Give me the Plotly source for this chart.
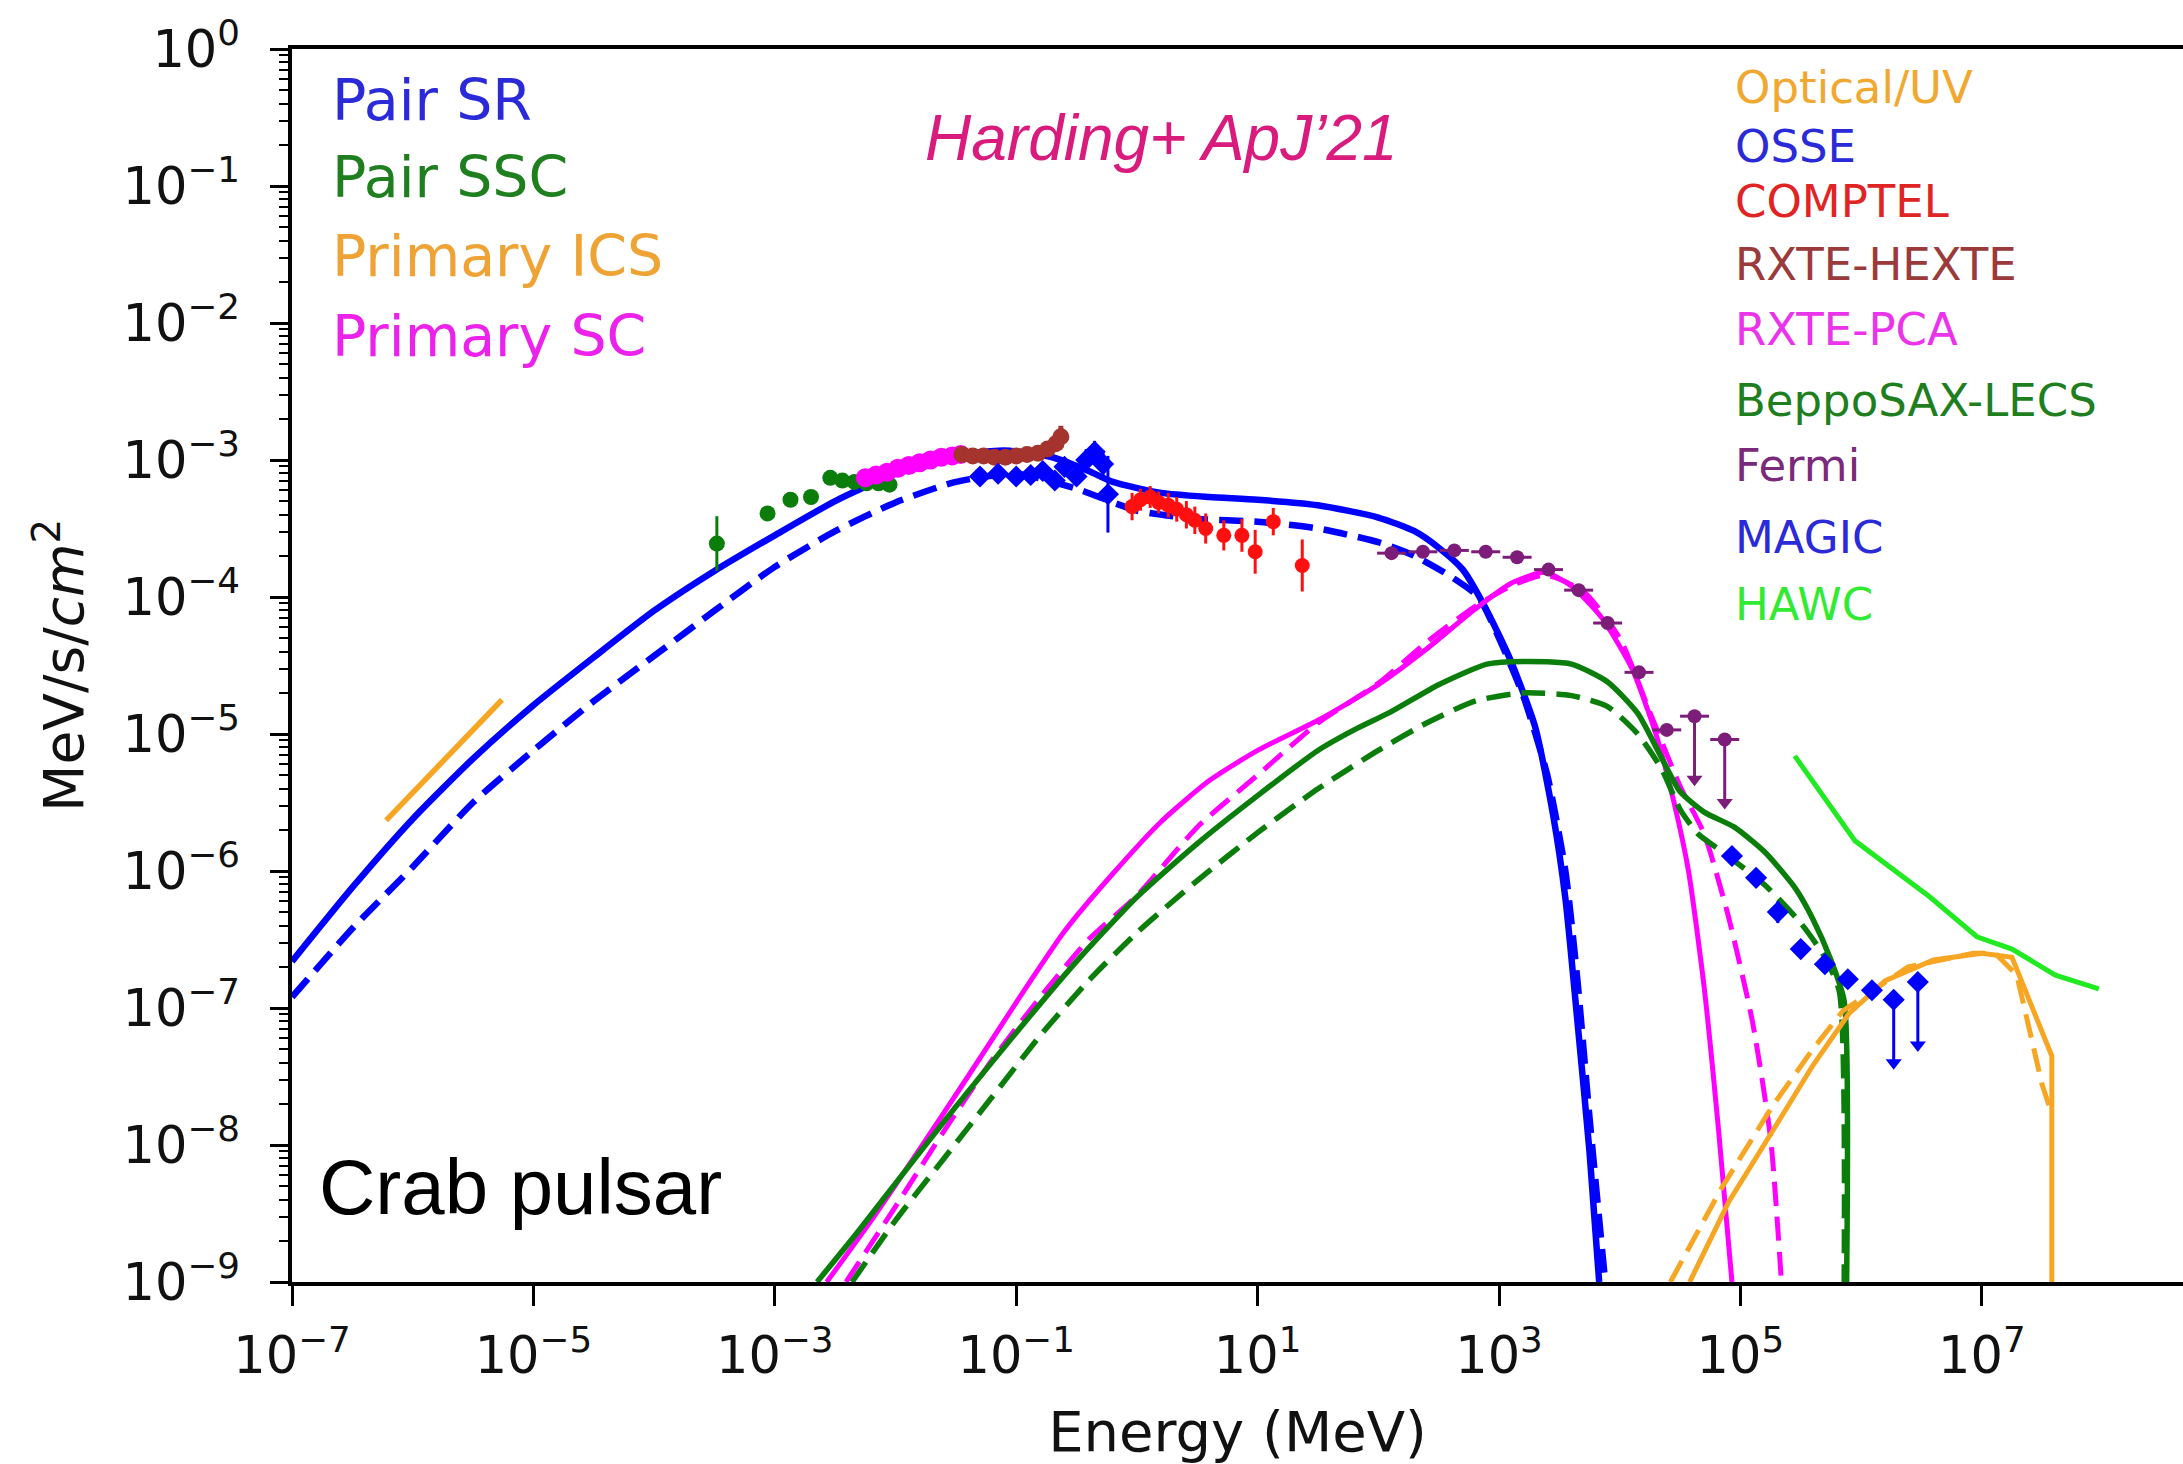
import numpy as np
import plotly.graph_objects as go

# ---------------- model curves: log10(E / MeV) and log10(flux, MeV/s/cm^2) ----------------
pair_sr_logE = [-7.0, -6.5, -6.0, -5.5, -5.0, -4.5, -4.0, -3.5, -3.0, -2.5, -2.0, -1.5, -1.1, -0.7, -0.4,
                -0.2, 0.2, 0.6, 1.0, 1.5, 2.0, 2.3, 2.5, 2.7, 2.9, 3.1, 3.3, 3.45, 3.55, 3.65, 3.75, 3.83]
pair_sr_logF = [-6.66, -6.12, -5.62, -5.18, -4.79, -4.44, -4.10, -3.81, -3.55, -3.30, -3.10, -2.97, -2.93, -2.98,
                -3.08, -3.16, -3.24, -3.27, -3.29, -3.33, -3.42, -3.52, -3.64, -3.80, -4.10, -4.47, -4.95, -5.60,
                -6.20, -7.10, -8.05, -9.0]
pair_sr2_logE = [-7.0, -6.5, -6.0, -5.5, -5.0, -4.5, -4.0, -3.5, -3.0, -2.5, -2.0, -1.5, -1.0, -0.5, 0.0, 0.5,
                 1.0, 1.5, 2.0, 2.3, 2.6, 2.83, 3.0, 3.2, 3.4, 3.55, 3.65, 3.75, 3.88]
pair_sr2_logF = [-6.92, -6.42, -5.97, -5.50, -5.12, -4.76, -4.43, -4.10, -3.78, -3.52, -3.31, -3.16, -3.10, -3.21,
                 -3.37, -3.43, -3.45, -3.50, -3.60, -3.70, -3.85, -4.00, -4.30, -4.72, -5.30, -6.00, -6.80, -7.80, -9.0]

pair_ssc_logE = [-2.65, -2.3, -2.0, -1.5, -1.0, -0.5, 0.0, 0.5, 1.0, 1.5, 1.8, 2.1, 2.5, 2.9, 3.2, 3.6, 3.9,
                 4.15, 4.35, 4.5, 4.7, 4.95, 5.2, 5.45, 5.6, 5.75, 5.86, 5.88]
pair_ssc_logF = [-9.0, -8.62, -8.28, -7.72, -7.18, -6.66, -6.19, -5.80, -5.45, -5.12, -4.97, -4.84, -4.64, -4.49,
                 -4.47, -4.49, -4.62, -4.85, -5.18, -5.42, -5.57, -5.68, -5.86, -6.12, -6.35, -6.65, -6.95, -9.0]
pair_ssc2_logE = [-2.36, -2.0, -1.6, -1.2, -0.8, -0.4, 0.0, 0.5, 1.0, 1.5, 2.0, 2.4, 2.8, 3.2, 3.6, 3.9, 4.15,
                  4.35, 4.5, 4.65, 4.85, 5.2, 5.5, 5.7, 5.82, 5.86]
pair_ssc2_logF = [-9.0, -8.55, -8.10, -7.65, -7.20, -6.80, -6.45, -6.07, -5.72, -5.40, -5.12, -4.92, -4.76, -4.70,
                  -4.72, -4.80, -5.00, -5.26, -5.55, -5.73, -5.86, -6.10, -6.38, -6.63, -6.88, -9.0]

prim_sc_logE = [-2.57, -2.2, -1.8, -1.4, -1.0, -0.6, -0.2, 0.2, 0.6, 1.0, 1.5, 2.0, 2.4, 2.8, 3.1, 3.38, 3.6,
                3.85, 4.1, 4.3, 4.45, 4.57, 4.7, 4.82, 4.93]
prim_sc_logF = [-9.0, -8.55, -8.03, -7.50, -6.96, -6.44, -6.02, -5.64, -5.34, -5.12, -4.90, -4.64, -4.38, -4.09,
                -3.90, -3.82, -3.92, -4.15, -4.52, -5.00, -5.50, -6.00, -6.85, -7.90, -9.0]
prim_sc2_logE = [-2.41, -2.0, -1.6, -1.2, -0.8, -0.4, 0.0, 0.5, 1.0, 1.5, 2.0, 2.4, 2.8, 3.1, 3.38, 3.7, 4.0,
                 4.25, 4.5, 4.7, 4.9, 5.1, 5.25, 5.34]
prim_sc2_logF = [-9.0, -8.45, -7.90, -7.38, -6.92, -6.50, -6.18, -5.68, -5.30, -4.92, -4.63, -4.33, -4.07, -3.92,
                 -3.84, -3.96, -4.30, -4.84, -5.38, -5.73, -6.33, -7.10, -7.95, -9.0]

prim_ics_logE = [4.58, 4.9, 5.3, 5.6, 5.9, 6.2, 6.6, 7.0, 7.25, 7.58, 7.58]
prim_ics_logF = [-9.0, -8.42, -7.85, -7.42, -7.04, -6.80, -6.65, -6.60, -6.63, -7.35, -9.0]
prim_ics2_logE = [4.42, 4.84, 5.27, 5.6, 5.85, 6.39, 6.93, 7.11, 7.29, 7.50, 7.56]
prim_ics2_logF = [-9.0, -8.32, -7.71, -7.30, -7.02, -6.70, -6.60, -6.60, -6.76, -7.56, -7.72]

# ---------------- observations ----------------
optuv_logE = [-6.22, -5.26]
optuv_logF = [-5.63, -4.75]

hawc_logE = [5.45, 5.95, 6.57, 6.96, 7.25, 7.61, 7.97]
hawc_logF = [-5.16, -5.78, -6.19, -6.48, -6.57, -6.76, -6.86]

lecs_logE = [-3.48, -3.06, -2.87, -2.70, -2.54, -2.44, -2.34, -2.24, -2.14, -2.05]
lecs_logF = [-3.61, -3.39, -3.29, -3.27, -3.13, -3.15, -3.16, -3.17, -3.17, -3.18]
lecs_err = [0.20, 0.03, 0.03, 0.03, 0.03, 0.03, 0.03, 0.03, 0.03, 0.03]

pca_logE = [-2.25, -2.16, -2.07, -1.98, -1.89, -1.80, -1.71, -1.62, -1.53, -1.46]
pca_logF = [-3.13, -3.11, -3.09, -3.06, -3.04, -3.02, -3.00, -2.98, -2.97, -2.96]
pca_err = [0.05, 0.05, 0.05, 0.05, 0.05, 0.05, 0.05, 0.05, 0.05, 0.05]

hexte_logE = [-1.45, -1.36, -1.27, -1.18, -1.09, -1.00, -0.91, -0.82, -0.74, -0.67, -0.63]
hexte_logF = [-2.96, -2.97, -2.97, -2.98, -2.98, -2.97, -2.96, -2.95, -2.92, -2.88, -2.83]
hexte_err = [0.04, 0.04, 0.04, 0.04, 0.04, 0.04, 0.04, 0.05, 0.05, 0.06, 0.08]

osse_logE = [-1.30, -1.15, -1.00, -0.88, -0.78, -0.68, -0.60, -0.50, -0.42, -0.35, -0.28, -0.24]
osse_logF = [-3.12, -3.10, -3.12, -3.11, -3.08, -3.15, -3.05, -3.12, -3.00, -2.94, -3.03, -3.25]
osse_err = [0.04, 0.04, 0.05, 0.05, 0.05, 0.06, 0.06, 0.07, 0.08, 0.08, 0.10, 0.28]

comptel_logE = [-0.04, 0.03, 0.11, 0.18, 0.26, 0.33, 0.41, 0.48, 0.57, 0.72, 0.87, 0.98, 1.13, 1.37]
comptel_logF = [-3.34, -3.29, -3.27, -3.31, -3.33, -3.36, -3.40, -3.44, -3.50, -3.55, -3.55, -3.67, -3.45, -3.77]
comptel_err = [0.10, 0.08, 0.08, 0.08, 0.09, 0.09, 0.10, 0.10, 0.11, 0.11, 0.12, 0.16, 0.10, 0.19]

fermi_logE = [2.11, 2.37, 2.63, 2.89, 3.15, 3.41, 3.66, 3.90, 4.16, 4.39]
fermi_logF = [-3.68, -3.67, -3.66, -3.67, -3.71, -3.80, -3.95, -4.19, -4.55, -4.97]
fermi_ul_logE = [4.62, 4.87]
fermi_ul_logF = [-4.87, -5.04]
fermi_ul_low = [-5.33, -5.50]

magic_logE = [4.93, 5.13, 5.31, 5.50, 5.70, 5.89, 6.09]
magic_logF = [-5.89, -6.05, -6.30, -6.57, -6.68, -6.79, -6.87]
magic_err = [0.03, 0.03, 0.08, 0.05, 0.04, 0.04, 0.04]
magic_ul_logE = [6.27, 6.47]
magic_ul_logF = [-6.94, -6.81]
magic_ul_low = [-7.40, -7.27]

model_labels = ["Pair SR", "Pair SSC", "Primary ICS", "Primary SC"]
data_labels = ["Optical/UV", "OSSE", "COMPTEL", "RXTE-HEXTE", "RXTE-PCA", "BeppoSAX-LECS", "Fermi", "MAGIC", "HAWC"]
y_tick_exps = list(range(-9, 1))
x_tick_exps = [-7, -5, -3, -1, 1, 3, 5, 7]

# ---------------- styling ----------------
BLUE = "#0000ff"
GREEN = "#0b7d0b"
MAGENTA = "#ff00ff"
ORANGE = "#f6a623"
LIME = "#22ea22"
PURPLE = "#7d1d7a"
RED = "#ff1010"
BROWN = "#a5332e"

W, H = 2183, 1464
L, T, R, B = 292, 49, 0, 182


def P(a):
    return np.power(10.0, np.asarray(a, dtype=float))


def errs(logf, e):
    f = P(logf)
    e = np.asarray(e, dtype=float)
    return f * (np.power(10.0, e) - 1.0), f * (1.0 - np.power(10.0, -e))


fig = go.Figure()


def line(xs, ys, color, dash=None, width=6, shape="spline"):
    fig.add_trace(go.Scatter(x=P(xs), y=P(ys), mode="lines",
                             line=dict(color=color, width=width, dash=dash, shape=shape, smoothing=0.6),
                             hoverinfo="skip"))


DASH = "24px,11px"
line(pair_sr_logE, pair_sr_logF, BLUE, width=6.5)
line(pair_sr2_logE, pair_sr2_logF, BLUE, DASH, width=6.5)
line(prim_sc_logE, prim_sc_logF, MAGENTA, width=5)
line(prim_sc2_logE, prim_sc2_logF, MAGENTA, DASH, width=5)
line(pair_ssc_logE, pair_ssc_logF, GREEN, width=5.5)
line(pair_ssc2_logE, pair_ssc2_logF, GREEN, DASH, width=5.5)
line(prim_ics_logE, prim_ics_logF, ORANGE, width=5, shape="linear")
line(prim_ics2_logE, prim_ics2_logF, ORANGE, DASH, width=5, shape="linear")
line(hawc_logE, hawc_logF, LIME, width=5, shape="linear")
line(optuv_logE, optuv_logF, ORANGE, width=5.5, shape="linear")


def points(xs, ys, e, color, symbol="circle", size=13, xerr=None, thick=3):
    up, dn = errs(ys, e)
    kw = {}
    if xerr is not None:
        xv = P(xs)
        kw["error_x"] = dict(type="data", symmetric=False,
                             array=xv * (10 ** xerr - 1), arrayminus=xv * (1 - 10 ** -xerr),
                             color=color, thickness=3, width=0)
    fig.add_trace(go.Scatter(x=P(xs), y=P(ys), mode="markers",
                             marker=dict(color=color, size=size, symbol=symbol, line=dict(width=0)),
                             error_y=dict(type="data", symmetric=False, array=up, arrayminus=dn,
                                          color=color, thickness=thick, width=0),
                             hoverinfo="skip", **kw))


points(lecs_logE, lecs_logF, lecs_err, GREEN, size=16)
points(pca_logE, pca_logF, pca_err, MAGENTA, size=19, thick=5)
points(hexte_logE, hexte_logF, hexte_err, BROWN, size=17, thick=5)
points(osse_logE, osse_logF, osse_err, BLUE, symbol="diamond", size=17)
points(comptel_logE, comptel_logF, comptel_err, RED, size=15)
points(fermi_logE, fermi_logF, [0.02] * len(fermi_logE), PURPLE, size=14, xerr=0.12)
points(magic_logE, magic_logF, magic_err, BLUE, symbol="diamond", size=17)


def upper_limits(xs, ys, lows, color, symbol, size, xerr=None):
    yv = P(ys)
    kw = {}
    if xerr is not None:
        xv = P(xs)
        kw["error_x"] = dict(type="data", symmetric=False,
                             array=xv * (10 ** xerr - 1), arrayminus=xv * (1 - 10 ** -xerr),
                             color=color, thickness=3, width=0)
    fig.add_trace(go.Scatter(x=P(xs), y=yv, mode="markers",
                             marker=dict(color=color, size=size, symbol=symbol),
                             error_y=dict(type="data", symmetric=False, array=[0] * len(xs),
                                          arrayminus=yv - P(lows), color=color, thickness=3, width=0),
                             hoverinfo="skip", **kw))
    fig.add_trace(go.Scatter(x=P(xs), y=P(lows), mode="markers",
                             marker=dict(color=color, size=14, symbol="triangle-down"),
                             hoverinfo="skip"))


upper_limits(fermi_ul_logE, fermi_ul_logF, fermi_ul_low, PURPLE, "circle", 14, xerr=0.12)
upper_limits(magic_ul_logE, magic_ul_logF, magic_ul_low, BLUE, "diamond", 17)


def sup(e):
    return "10<sup>" + (str(e) if e >= 0 else "\u2212" + str(-e)) + "</sup>"


TICKFONT = dict(family="DejaVu Sans", size=51, color="#111111")
fig.update_layout(
    width=W, height=H, showlegend=False,
    paper_bgcolor="white", plot_bgcolor="white",
    margin=dict(l=L, r=R, t=T, b=B),
    xaxis=dict(type="log", range=[-7, -7 + (W - L) / 120.7],
               tickvals=[10.0 ** k for k in x_tick_exps], ticktext=[sup(k) for k in x_tick_exps],
               ticks="outside", ticklen=20, tickwidth=3, tickcolor="black",
               showline=True, linecolor="black", linewidth=3.5, mirror=True,
               showgrid=False, zeroline=False, tickfont=TICKFONT, ticklabelstandoff=6,
               title=dict(text="Energy (MeV)", standoff=30,
                          font=dict(family="DejaVu Sans", size=56, color="#111111"))),
    yaxis=dict(type="log", range=[-9, 0],
               tickvals=[10.0 ** k for k in y_tick_exps], ticktext=[sup(k) for k in y_tick_exps],
               ticks="outside", ticklen=18, tickwidth=3, tickcolor="black",
               minor=dict(ticks="outside", ticklen=9, tickwidth=2, tickcolor="black",
                          tickvals=[m * 10.0 ** k for k in y_tick_exps[:-1] for m in range(2, 10)]),
               showline=True, linecolor="black", linewidth=3.5,
               showgrid=False, zeroline=False, tickfont=TICKFONT, ticklabelstandoff=20,
               title=dict(text="MeV/s/<i>cm</i><sup>2</sup>", standoff=22,
                          font=dict(family="DejaVu Sans", size=55, color="#111111"))),
)


def px(X, Y):
    return (X - L) / (W - L - R), (H - B - Y) / (H - B - T)


def label(text, X, Y, color, size, family="DejaVu Sans", xanchor="left", italic=False):
    x, y = px(X, Y)
    fig.add_annotation(x=x, y=y, xref="paper", yref="paper", text=text, showarrow=False,
                       xanchor=xanchor, yanchor="middle",
                       font=dict(family=family, size=size, color=color,
                                 style="italic" if italic else "normal"))


model_colors = ["#2a2ad8", "#1f7f1f", "#efa334", "#ec22ec"]
model_y = [100, 177, 256, 336]
for t, c, y in zip(model_labels, model_colors, model_y):
    label(t, 330, y, c, 57)

data_colors = ["#f0a830", "#2a2ad8", "#e02424", "#9a3a3a", "#ec33ec", "#1f7f1f", "#7a2a7a", "#2a2ad8", "#33ea33"]
data_y = [88, 146, 202, 264, 329, 400, 465, 537, 604]
for t, c, y in zip(data_labels, data_colors, data_y):
    label(t, 1733, y, c, 45)

label("Harding+ ApJ\u201921", 1161, 138, "#d81b7c", 64, family="Liberation Sans", xanchor="center", italic=True)
label("Crab pulsar", 317, 1187, "#000000", 78, family="Liberation Sans")

fig.write_html("out.html")
